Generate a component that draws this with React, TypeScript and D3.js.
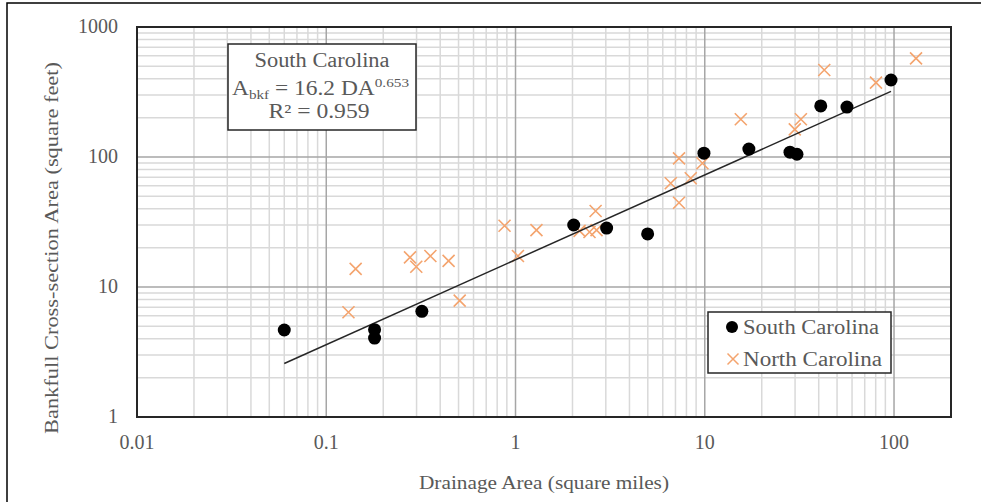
import React from 'react';
import * as d3 from 'd3';

// drainage area (sq mi) / bankfull area (sq ft)
const scArea = [0.06, 0.18, 0.18, 0.32, 2.03, 3.03, 4.99, 9.9, 17.1, 28.2, 30.7, 41, 56.4, 96.4];
const scXsec = [4.67, 4.7, 4.05, 6.5, 30, 28.4, 25.6, 107, 115, 109, 105, 247, 242, 391];

const ncArea = [0.131, 0.143, 0.277, 0.299, 0.355, 0.443, 0.507, 0.875, 1.03, 1.29, 2.18, 2.46, 2.68, 2.65,
  6.61, 7.31, 7.31, 8.43, 9.72, 15.5, 29.9, 32.2, 42.8, 80.3, 130.7];
const ncXsec = [6.39, 13.8, 16.9, 14.3, 17.3, 15.9, 7.85, 29.6, 17.3, 27.4, 27.0, 26.5, 27.4, 38.4,
  62.8, 97.7, 44.5, 68.6, 89.5, 195, 163, 195, 467, 373, 574];

// power fit shown in the box
const fitCoef = 16.2;
const fitExp = 0.653;

const xTicks = [0.01, 0.1, 1, 10, 100];
const yTicks = [1, 10, 100, 1000];

const W = 981;
const H = 502;
const plot = { left: 137, right: 951, top: 27, bottom: 417 };

const GREY = '#595959';
const ORANGE = '#F4A46E';

export default function App() {
  const x = d3.scaleLog().domain([0.01, 200]).range([plot.left, plot.right]);
  const y = d3.scaleLog().domain([1, 1000]).range([plot.bottom, plot.top]);

  // minor grid 2..9 per decade
  const xMinor: number[] = [];
  for (let e = -2; e <= 2; e++) {
    for (let m = 2; m <= 9; m++) {
      const v = m * Math.pow(10, e);
      if (v < 200) xMinor.push(v);
    }
  }
  const yMinor: number[] = [];
  for (let e = 0; e <= 2; e++) {
    for (let m = 2; m <= 9; m++) yMinor.push(m * Math.pow(10, e));
  }

  const xMin = d3.min(scArea) as number;
  const xMax = d3.max(scArea) as number;
  const fitLine = d3.line<number>()
    .x(d => x(d))
    .y(d => y(fitCoef * Math.pow(d, fitExp)));

  const cross = (cx: number, cy: number, s: number) =>
    `M${cx - s},${cy - s}L${cx + s},${cy + s}M${cx - s},${cy + s}L${cx + s},${cy - s}`;

  return (
    <svg width={W} height={H} style={{ position: 'absolute', left: 0, top: 0, background: '#fff' }}>
      <style>{`text { font-family: 'Liberation Serif', 'DejaVu Serif', serif; }`}</style>
      <rect x={0} y={0} width={W} height={H} fill="#fff" />
      <rect x={7} y={3} width={W + 20} height={H + 20} fill="none" stroke="#000" strokeWidth={1.5} />

      {/* grid */}
      <g>
        {xMinor.map(v => (
          <line key={'xm' + v} x1={x(v)} x2={x(v)} y1={plot.top} y2={plot.bottom} stroke="#d9d9d9" strokeWidth={1.5} />
        ))}
        {yMinor.map(v => (
          <line key={'ym' + v} x1={plot.left} x2={plot.right} y1={y(v)} y2={y(v)} stroke="#d9d9d9" strokeWidth={1.5} />
        ))}
        {xTicks.map(v => (
          <line key={'xM' + v} x1={x(v)} x2={x(v)} y1={plot.top} y2={plot.bottom} stroke="#a6a6a6" strokeWidth={1.5} />
        ))}
        {yTicks.map(v => (
          <line key={'yM' + v} x1={plot.left} x2={plot.right} y1={y(v)} y2={y(v)} stroke="#a6a6a6" strokeWidth={1.5} />
        ))}
      </g>
      <rect x={plot.left} y={plot.top} width={plot.right - plot.left} height={plot.bottom - plot.top}
        fill="none" stroke="#262626" strokeWidth={2} />

      {/* tick labels */}
      {xTicks.map(v => (
        <text key={'xt' + v} x={x(v)} y={449} textAnchor="middle" fontSize={20} fill={GREY}>{String(v)}</text>
      ))}
      {yTicks.map(v => (
        <text key={'yt' + v} x={118} y={y(v) + 6} textAnchor="end" fontSize={20} fill={GREY}>{String(v)}</text>
      ))}

      {/* axis titles */}
      <text x={544} y={489} textAnchor="middle" fontSize={19} fill={GREY} textLength={250} lengthAdjust="spacingAndGlyphs">
        Drainage Area (square miles)
      </text>
      <text transform="translate(58,248) rotate(-90)" textAnchor="middle" fontSize={19} fill={GREY}
        textLength={372} lengthAdjust="spacingAndGlyphs">
        Bankfull Cross-section Area (square feet)
      </text>

      {/* NC crosses */}
      <g>
        {ncArea.map((a, i) => (
          <path key={'nc' + i} d={cross(x(a), y(ncXsec[i]), 6)} stroke={ORANGE} strokeWidth={1.6} fill="none" />
        ))}
      </g>

      {/* trendline */}
      <path d={fitLine([xMin, xMax]) as string} stroke="#262626" strokeWidth={1.5} fill="none" />

      {/* SC circles */}
      <g>
        {scArea.map((a, i) => (
          <circle key={'sc' + i} cx={x(a)} cy={y(scXsec[i])} r={6.5} fill="#000" />
        ))}
      </g>

      {/* equation box */}
      <rect x={228} y={44} width={188} height={86} fill="#fff" stroke="#262626" strokeWidth={1.5} />
      <text x={322} y={67} textAnchor="middle" fontSize={20} fill={GREY} textLength={135} lengthAdjust="spacingAndGlyphs">
        South Carolina
      </text>
      <text x={232} y={95} fontSize={20} fill={GREY} textLength={177} lengthAdjust="spacingAndGlyphs">
        <tspan>A</tspan>
        <tspan fontSize={13} dy={4}>bkf</tspan>
        <tspan dy={-4}> = 16.2 DA</tspan>
        <tspan fontSize={13} dy={-8}>0.653</tspan>
      </text>
      <text x={319} y={118} textAnchor="middle" fontSize={20} fill={GREY} textLength={101} lengthAdjust="spacingAndGlyphs">
        R² = 0.959
      </text>

      {/* legend */}
      <rect x={708} y={312} width={183} height={61} fill="#fff" stroke="#262626" strokeWidth={1.5} />
      <circle cx={732} cy={327} r={6} fill="#000" />
      <text x={743} y={334} fontSize={20} fill={GREY} textLength={136} lengthAdjust="spacingAndGlyphs">South Carolina</text>
      <path d={cross(733, 359, 5.5)} stroke={ORANGE} strokeWidth={1.5} fill="none" />
      <text x={743} y={366} fontSize={20} fill={GREY} textLength={139} lengthAdjust="spacingAndGlyphs">North Carolina</text>
    </svg>
  );
}
